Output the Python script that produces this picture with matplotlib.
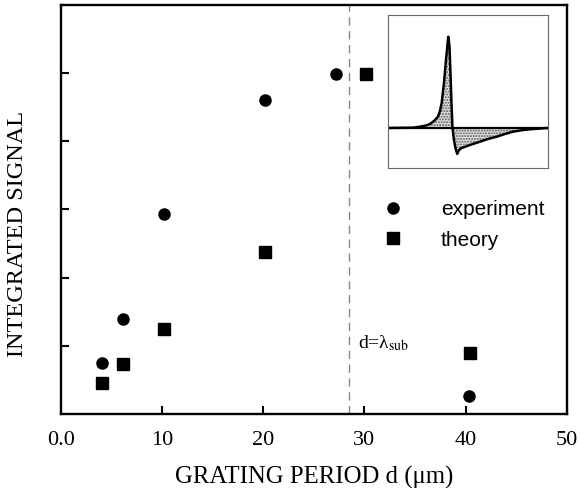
import matplotlib
matplotlib.use("Agg")
import matplotlib.pyplot as plt
import numpy as np

# ---- data ----
exp_x = [4.1, 6.1, 10.2, 20.2, 27.2, 40.3]
exp_y = [0.75, 1.40, 2.93, 4.60, 4.99, 0.26]
th_x = [4.1, 6.1, 10.2, 20.2, 30.2, 40.4]
th_y = [0.45, 0.73, 1.24, 2.38, 4.99, 0.89]
x_ticks = [0, 10, 20, 30, 40, 50]
x_ticklabels = ["0.0", "10", "20", "30", "40", "50"]
y_ticks = [1, 2, 3, 4, 5]
d_lambda = 28.5

# inset waveform (arbitrary units)
ins_t = [0, 25, 32, 38, 42, 46, 50, 52, 53.7, 56, 58, 60.3, 61.5, 62.5, 63.5, 64.5,
         66, 67.5, 69.3, 71, 73.7, 78, 82, 92, 100, 108.7, 117, 125, 134, 142, 160]
ins_s = [0, 0.3, 1.3, 2.5, 4, 7, 11.3, 17, 25, 45, 68, 91.3, 82, 55, 25, 0,
         -12, -20, -26, -22, -20, -18.5, -17, -13.7, -11, -8.7, -6, -3.7, -2.2, -1.3, 0]

plt.rcParams['mathtext.fontset'] = 'stix'
serif = 'Liberation Serif'
sans = 'Liberation Sans'

fig = plt.figure(figsize=(5.85, 4.98), dpi=100)
ax = fig.add_axes([0.1043, 0.1687, 0.8644, 0.8213])

ax.plot(exp_x, exp_y, 'o', color='black', markersize=8, label='experiment')
ax.plot(th_x, th_y, 's', color='black', markersize=8, label='theory')
ax.axvline(d_lambda, color='#888888', linestyle=(0, (6, 4)), linewidth=1.0)

ax.set_xlim(0, 50)
ax.set_ylim(0, 6)
ax.set_xticks(x_ticks)
ax.set_xticklabels(x_ticklabels, fontfamily=serif, fontsize=16)
ax.set_yticks(y_ticks)
ax.set_yticklabels([])
ax.tick_params(direction='in', length=6, width=1.5, top=False, right=False, pad=12)
for s in ax.spines.values():
    s.set_linewidth(1.7)

ax.set_xlabel("GRATING PERIOD d (μm)", fontfamily=serif, fontsize=17.8, labelpad=12)
ax.set_ylabel("INTEGRATED SIGNAL", fontfamily=serif, fontsize=17.5)
ax.yaxis.set_label_coords(-0.065, 0.44)

ax.text(29.4, 1.04, r'd=λ$_{\mathrm{sub}}$', fontfamily=serif, fontsize=14, va='center', ha='left')

leg = ax.legend(loc='upper left', bbox_to_anchor=(0.615, 0.548), frameon=False,
                prop={'family': sans, 'size': 15}, handlelength=1.0,
                handletextpad=1.8, labelspacing=0.55, borderpad=0)

# inset
ins = fig.add_axes([0.6632, 0.6627, 0.2735, 0.3072])
ins.fill_between(ins_t, ins_s, 0, facecolor='#e4e4e4', edgecolor='#555555', hatch='......', linewidth=0)
ins.plot(ins_t, ins_s, color='black', linewidth=1.8)
ins.axhline(0, color='black', linewidth=1.6)
ins.set_xlim(0, 160)
ins.set_ylim(-40, 113)
ins.set_xticks([])
ins.set_yticks([])
for s in ins.spines.values():
    s.set_linewidth(0.8)
    s.set_color('#666666')

fig.savefig("out.png", dpi=100)
